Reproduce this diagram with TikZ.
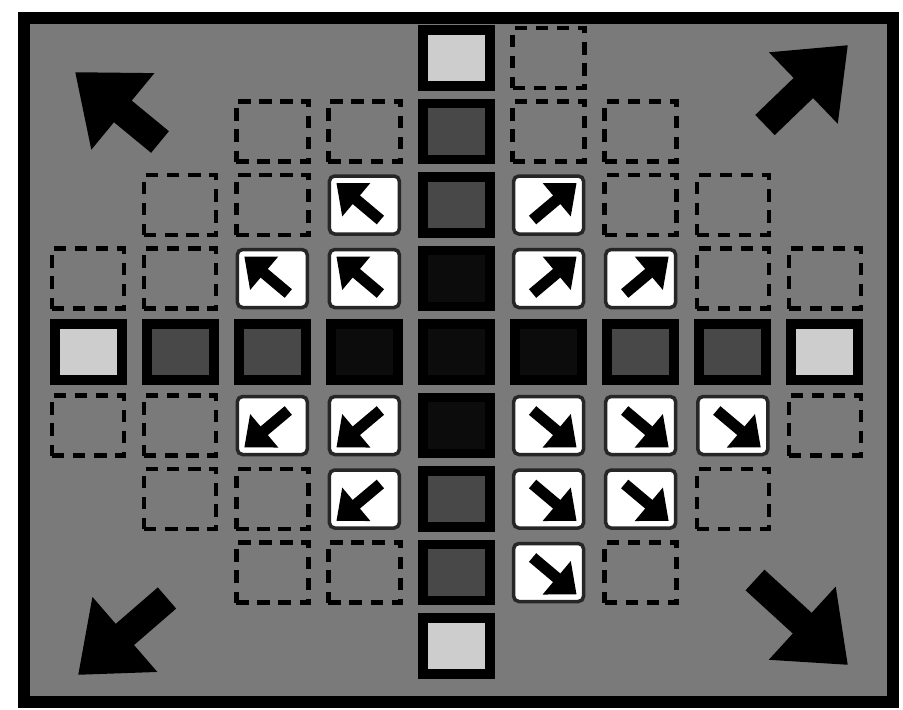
\documentclass[tikz,border=0pt]{standalone}
\usetikzlibrary{arrows.meta}
\definecolor{bgcol}{RGB}{122,122,122}
\definecolor{lightfill}{RGB}{205,205,205}
\definecolor{darkfill}{RGB}{72,72,72}
\definecolor{blackfill}{RGB}{12,12,12}
\begin{document}
\begin{tikzpicture}[
            x=0.921cm, y=0.735cm,
            solidcell/.style={rectangle, draw=black, line width=2.8pt, minimum width=0.67cm, minimum height=0.56cm, inner sep=0pt},
            lightcell/.style={solidcell, fill=lightfill},
            darkcell/.style={solidcell, fill=darkfill},
            blackcell/.style={solidcell, fill=blackfill},
            dashcell/.style={rectangle, draw=black, line width=1.3pt, dash pattern=on 3.5pt off 2.5pt, minimum width=0.72cm, minimum height=0.6cm, inner sep=0pt},
            arrowcell/.style={rectangle, draw=black!85, fill=white, line width=1pt, rounded corners=1.5pt, minimum width=0.7cm, minimum height=0.58cm, inner sep=0pt},
            smallarrow/.style={line width=3.2pt, -{Triangle[length=0.26cm, width=0.42cm]}},
            bigarrow/.style={line width=0.28cm, -{Triangle[length=0.62cm, width=0.95cm]}}
        ]
            \useasboundingbox (-4.565cm,-3.57cm) rectangle (4.465cm,3.52cm);
            \draw[line width=0.12cm, fill=bgcol] (-4.325cm,-3.50cm) rectangle (4.365cm,3.34cm);
            % centre row
            \node[lightcell] (s-1-5) at (-4, 0) {};
            \node[darkcell]  (s-2-5) at (-3, 0) {};
            \node[darkcell]  (s-3-5) at (-2, 0) {};
            \node[blackcell] (s-4-5) at (-1, 0) {};
            \node[blackcell] (s-5-5) at (0, 0)  {};
            \node[blackcell] (s-6-5) at (1, 0)  {};
            \node[darkcell]  (s-7-5) at (2, 0)  {};
            \node[darkcell]  (s-8-5) at (3, 0)  {};
            \node[lightcell] (s-9-5) at (4, 0)  {};
            % centre column
            \node[lightcell] (s-5-1) at (0, 4)  {};
            \node[darkcell]  (s-5-2) at (0, 3)  {};
            \node[darkcell]  (s-5-3) at (0, 2)  {};
            \node[blackcell] (s-5-4) at (0, 1)  {};
            \node[blackcell] (s-5-6) at (0, -1) {};
            \node[darkcell]  (s-5-7) at (0, -2) {};
            \node[darkcell]  (s-5-8) at (0, -3) {};
            \node[lightcell] (s-5-9) at (0, -4) {};
            % dashed cells
            \foreach \i/\j in {1/4, 2/4, 2/3, 3/3, 3/2, 4/2,
                               6/1, 6/2, 7/2, 7/3, 8/3, 8/4, 9/4,
                               1/6, 2/6, 2/7, 3/7, 3/8, 4/8,
                               9/6, 8/7, 7/8}
                \node[dashcell] (s-\i-\j) at (\i-5, 5-\j) {};
            % arrow cells
            \foreach \i/\j in {3/4, 4/4, 4/3, 6/4, 7/4, 6/3,
                               3/6, 4/6, 4/7, 6/6, 7/6, 8/6, 6/7, 7/7, 6/8}
                \node[arrowcell] (s-\i-\j) at (\i-5, 5-\j) {};
            \foreach \c in {s-3-4, s-4-4, s-4-3}
                \draw[smallarrow] ([shift={(0.16cm,-0.15cm)}]\c.center) -- ([shift={(-0.28cm,0.22cm)}]\c.center);
            \foreach \c in {s-6-4, s-7-4, s-6-3}
                \draw[smallarrow] ([shift={(-0.16cm,-0.15cm)}]\c.center) -- ([shift={(0.28cm,0.22cm)}]\c.center);
            \foreach \c in {s-3-6, s-4-6, s-4-7}
                \draw[smallarrow] ([shift={(0.16cm,0.15cm)}]\c.center) -- ([shift={(-0.28cm,-0.22cm)}]\c.center);
            \foreach \c in {s-6-6, s-7-6, s-8-6, s-6-7, s-7-7, s-6-8}
                \draw[smallarrow] ([shift={(-0.16cm,0.15cm)}]\c.center) -- ([shift={(0.28cm,-0.22cm)}]\c.center);
            % corner arrows
            \draw[bigarrow] (-2.965cm, 2.10cm) -- (-3.815cm, 2.80cm);
            \draw[bigarrow] (3.085cm, 2.27cm)  -- (3.915cm, 3.07cm);
            \draw[bigarrow] (-2.895cm,-2.46cm) -- (-3.785cm,-3.23cm);
            \draw[bigarrow] (2.985cm,-2.28cm)  -- (3.915cm,-3.13cm);
        \end{tikzpicture}
\end{document}
